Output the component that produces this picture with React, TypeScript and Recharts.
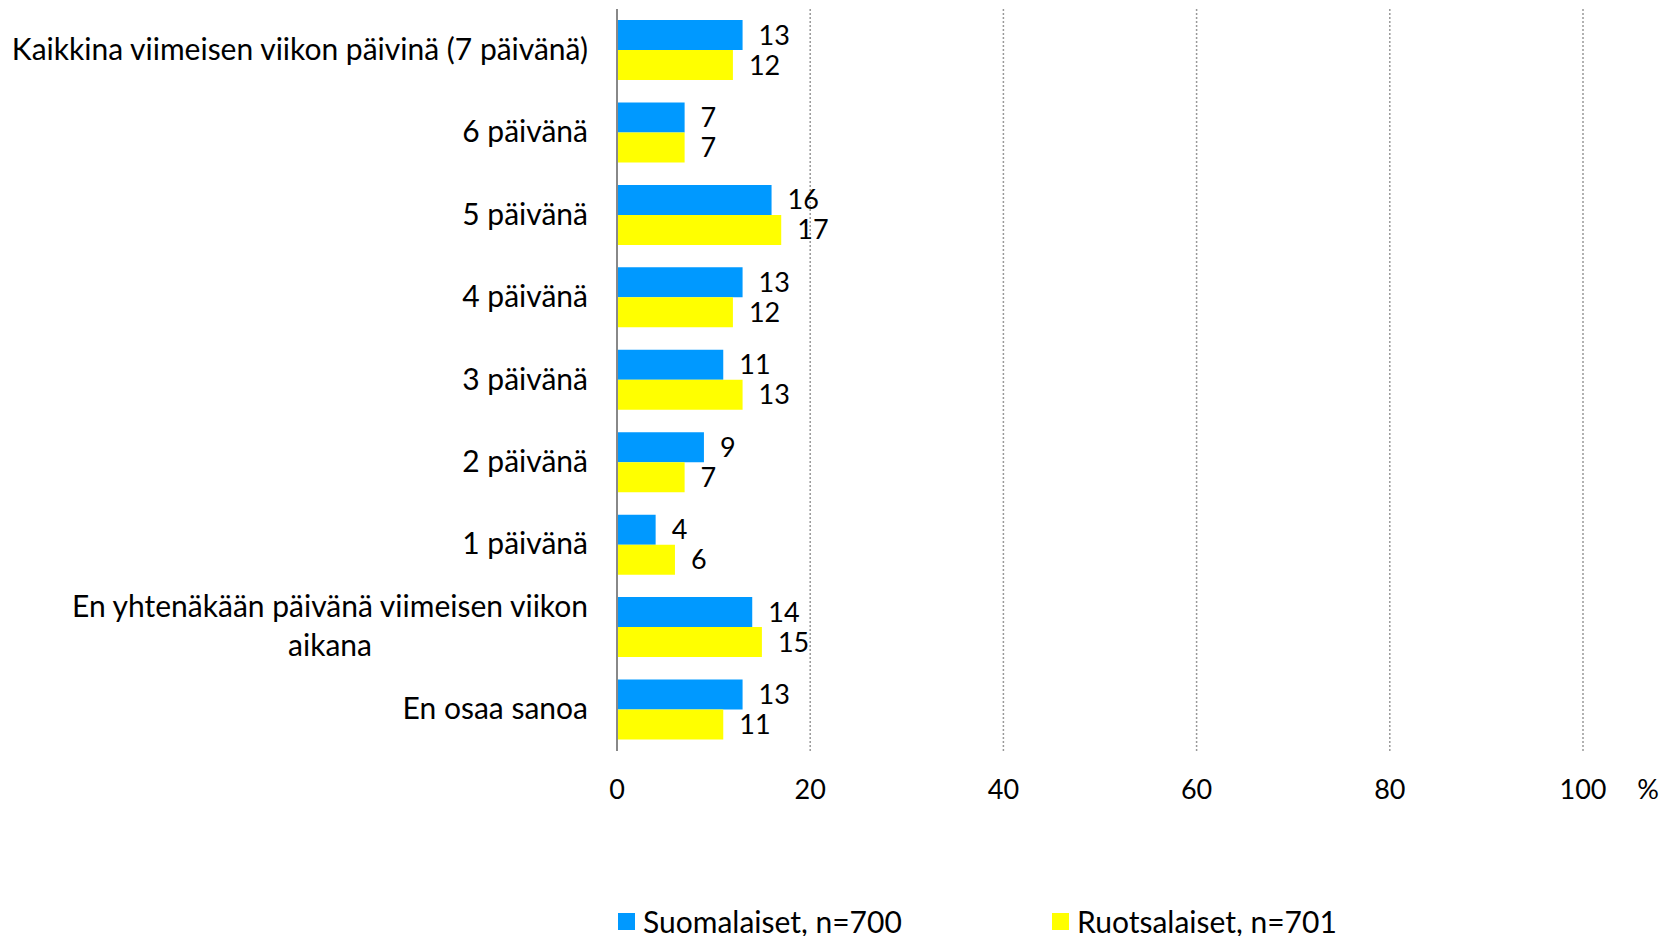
import React from 'react';
import {
  BarChart,
  Bar,
  XAxis,
  YAxis,
  CartesianGrid,
  LabelList,
  Legend,
} from 'recharts';

const categories = [
  'Kaikkina viimeisen viikon päivinä (7 päivänä)',
  '6 päivänä',
  '5 päivänä',
  '4 päivänä',
  '3 päivänä',
  '2 päivänä',
  '1 päivänä',
  'En yhtenäkään päivänä viimeisen viikon\naikana',
  'En osaa sanoa',
];
const finns = [13, 7, 16, 13, 11, 9, 4, 14, 13];
const swedes = [12, 7, 17, 12, 13, 7, 6, 15, 11];
const xTicks = [0, 20, 40, 60, 80, 100];

const seriesNames = ['Suomalaiset, n=700', 'Ruotsalaiset, n=701'];
const colors = ['#0099FF', '#FFFF00'];

const data = categories.map((name, i) => ({
  name,
  finns: finns[i],
  swedes: swedes[i],
}));

const FONT = 'Lato, "Open Sans", sans-serif';
const TEXT_SIZE = 30;
const NUM_SIZE = 27;

function CategoryTick(props: any) {
  const { x, y, payload } = props;
  const w = 600;
  return (
    <foreignObject x={x - w + 8 - 29} y={y - 52} width={w} height={100}>
      <div
        style={{
          display: 'flex',
          justifyContent: 'flex-end',
          alignItems: 'center',
          height: '100%',
          fontFamily: FONT,
          fontSize: TEXT_SIZE,
          color: '#000',
        }}
      >
        <div style={{ whiteSpace: 'pre-line', textAlign: 'center', lineHeight: '39px' }}>
          {payload.value}
        </div>
      </div>
    </foreignObject>
  );
}

function ValueTick(props: any) {
  const { x, y, payload } = props;
  return (
    <g>
      <text
        x={x}
        y={y + 29}
        textAnchor="middle"
        dominantBaseline="central"
        fontFamily={FONT}
        fontSize={NUM_SIZE}
        fill="#000"
      >
        {payload.value}
      </text>
      {payload.value === 100 && (
        <text
          x={x + 65}
          y={y + 29}
          textAnchor="middle"
          dominantBaseline="central"
          fontFamily={FONT}
          fontSize={NUM_SIZE}
          fill="#000"
        >
          %
        </text>
      )}
    </g>
  );
}

function LegendContent() {
  return (
    <div style={{ display: 'flex', fontFamily: FONT, fontSize: TEXT_SIZE, color: '#000' }}>
      {seriesNames.map((n, i) => (
        <div
          key={n}
          style={{ display: 'flex', alignItems: 'center', width: i === 0 ? 434 : 330 }}
        >
          <span
            style={{
              display: 'inline-block',
              width: 17,
              height: 17,
              background: colors[i],
              marginRight: 8,
            }}
          />
          <span>{n}</span>
        </div>
      ))}
    </div>
  );
}

export default function App() {
  return (
    <div style={{ position: 'absolute', left: 0, top: 0, background: '#fff' }}>
      <BarChart
        width={1669}
        height={936}
        data={data}
        layout="vertical"
        margin={{ top: 9, right: 86, left: 0, bottom: 29 }}
        barGap={0}
        barCategoryGap={11}
      >
        <CartesianGrid
          horizontal={false}
          stroke="#999"
          strokeDasharray="2 2"
          strokeWidth={1.5}
        />
        <XAxis
          type="number"
          domain={[0, 100]}
          ticks={xTicks}
          axisLine={false}
          tickLine={false}
          height={120}
          tick={<ValueTick />}
        />
        <YAxis
          type="category"
          dataKey="name"
          width={617}
          axisLine={{ stroke: '#888', strokeWidth: 2 }}
          tickLine={false}
          tick={<CategoryTick />}
          interval={0}
        />
        <Legend
          verticalAlign="bottom"
          height={68}
          content={<LegendContent />}
          wrapperStyle={{ left: 618, width: 900, bottom: -3, height: 36 }}
        />
        <Bar dataKey="finns" fill={colors[0]} barSize={30} isAnimationActive={false}>
          <LabelList
            dataKey="finns"
            position="right"
            offset={16}
            fontFamily={FONT}
            fontSize={NUM_SIZE}
            fill="#000"
          />
        </Bar>
        <Bar dataKey="swedes" fill={colors[1]} barSize={30} isAnimationActive={false}>
          <LabelList
            dataKey="swedes"
            position="right"
            offset={16}
            fontFamily={FONT}
            fontSize={NUM_SIZE}
            fill="#000"
          />
        </Bar>
      </BarChart>
    </div>
  );
}
